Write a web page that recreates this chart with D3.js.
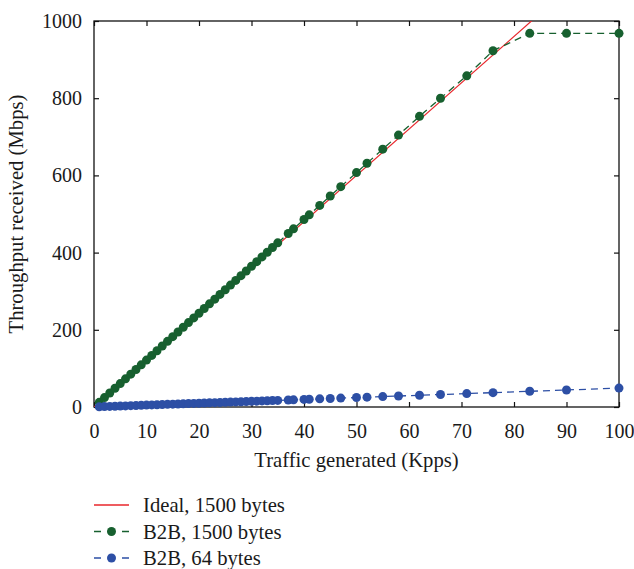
<!DOCTYPE html>
<html>
<head>
<meta charset="utf-8">
<script src="https://cdn.jsdelivr.net/npm/d3@7"></script>
<style>
  body { margin: 0; background: #fff; }
  text { font-family: "Liberation Serif", "Times New Roman", serif; fill: #1a1a1a; }
</style>
</head>
<body>
<script>
// traffic generated (Kpps) for the measured series
var kpps = [1, 2, 3, 4, 5, 6, 7, 8, 9, 10, 11, 12, 13, 14, 15, 16, 17, 18, 19, 20,
  21, 22, 23, 24, 25, 26, 27, 28, 29, 30, 31, 32, 33, 34, 35,
  37, 38, 40, 41, 43, 45, 47, 50, 52, 55, 58, 62, 66, 71, 76, 83, 90, 100];

// throughput received (Mbps), back-to-back, 1500 byte frames
var b2b1500 = [12.1, 24.3, 36.4, 48.6, 60.7, 72.9, 85.0, 97.2, 109.3, 121.5,
  133.6, 145.8, 157.9, 170.1, 182.2, 194.4, 206.5, 218.7, 230.8, 243.0,
  255.1, 267.3, 279.4, 291.6, 303.7, 315.9, 328.0, 340.2, 352.3, 364.5,
  376.6, 388.8, 400.9, 413.1, 425.2,
  449.4, 461.5, 485.8, 497.9, 522.2, 546.5, 570.8, 607.2, 631.5, 668.0,
  704.5, 753.0, 800.0, 858.0, 923.0, 968.0, 968.0, 968.0];

// throughput received (Mbps), back-to-back, 64 byte frames
var b2b64 = [0.5, 1.0, 1.5, 2.0, 2.4, 2.9, 3.4, 3.9, 4.4, 4.9,
  5.4, 5.9, 6.4, 6.9, 7.3, 7.8, 8.3, 8.8, 9.3, 9.8,
  10.3, 10.8, 11.3, 11.8, 12.2, 12.7, 13.2, 13.7, 14.2, 14.7,
  15.2, 15.7, 16.2, 16.7, 17.1,
  18.1, 18.6, 19.6, 20.1, 21.1, 22.0, 23.0, 24.5, 25.5, 26.9,
  28.4, 30.4, 32.3, 34.8, 37.2, 40.7, 44.1, 49.0];

// ideal line, 1500 bytes (12 Mbps per Kpps)
var idealX = [0, 100];
var idealY = [0, 1200];

var xTicks = [0, 10, 20, 30, 40, 50, 60, 70, 80, 90, 100];
var yTicks = [0, 200, 400, 600, 800, 1000];

var legendLabels = ["Ideal, 1500 bytes", "B2B, 1500 bytes", "B2B, 64 bytes"];
var colors = { ideal: "#e8262b", green: "#17602f", blue: "#2d4fa5" };

var margin = {top: 21, right: 15, bottom: 162, left: 94},
    width = 634 - margin.left - margin.right,
    height = 569 - margin.top - margin.bottom;

var svg = d3.select("body").append("svg")
    .attr("width", 634)
    .attr("height", 569);

var g = svg.append("g")
    .attr("transform", "translate(" + margin.left + "," + margin.top + ")");

var x = d3.scaleLinear().domain([0, 100]).range([0, width]);
var y = d3.scaleLinear().domain([0, 1000]).range([height, 0]);

svg.append("defs").append("clipPath").attr("id", "plotclip")
  .append("rect").attr("width", width).attr("height", height);

// axes: ticks point inward, mirrored on top and right
function styleAxis(sel) {
  sel.select(".domain").remove();
  sel.selectAll("line").attr("stroke", "#111").attr("stroke-width", 1.2);
  sel.selectAll("text").style("font-size", "20px").attr("fill", "#1a1a1a");
}

g.append("g")
    .attr("transform", "translate(0," + height + ")")
    .call(d3.axisBottom(x).tickValues(xTicks).tickFormat(d3.format("d"))
      .tickSizeInner(-5).tickSizeOuter(0).tickPadding(13))
    .call(styleAxis)
    .selectAll("text").attr("dy", "0.9em");

g.append("g")
    .call(d3.axisTop(x).tickValues(xTicks).tickSizeInner(-5).tickSizeOuter(0).tickFormat(""))
    .call(styleAxis);

g.append("g")
    .call(d3.axisLeft(y).tickValues(yTicks).tickFormat(d3.format("d"))
      .tickSizeInner(-5).tickSizeOuter(0).tickPadding(12))
    .call(styleAxis);

g.append("g")
    .attr("transform", "translate(" + width + ",0)")
    .call(d3.axisRight(y).tickValues(yTicks).tickSizeInner(-5).tickSizeOuter(0).tickFormat(""))
    .call(styleAxis);

g.append("rect")
    .attr("width", width).attr("height", height)
    .attr("fill", "none").attr("stroke", "#111").attr("stroke-width", 1.3);

// axis titles
g.append("text")
    .attr("x", width / 2).attr("y", height + 60)
    .attr("text-anchor", "middle")
    .style("font-size", "20.7px")
    .text("Traffic generated (Kpps)");

svg.append("text")
    .attr("transform", "translate(23," + (margin.top + height / 2) + ") rotate(-90)")
    .attr("text-anchor", "middle")
    .style("font-size", "20.7px")
    .text("Throughput received (Mbps)");

var line = d3.line()
    .x(function(d) { return x(d[0]); })
    .y(function(d) { return y(d[1]); });

// ideal
g.append("path")
    .datum(d3.zip(idealX, idealY))
    .attr("clip-path", "url(#plotclip)")
    .attr("fill", "none")
    .attr("stroke", colors.ideal)
    .attr("stroke-width", 1.2)
    .attr("d", line);

function drawSeries(vals, color) {
  var pts = d3.zip(kpps, vals);
  g.append("path")
      .datum(pts)
      .attr("fill", "none")
      .attr("stroke", color)
      .attr("stroke-width", 1.3)
      .attr("stroke-dasharray", "7,5")
      .attr("d", line);
  g.append("g").selectAll("circle")
      .data(pts)
    .enter().append("circle")
      .attr("cx", function(d) { return x(d[0]); })
      .attr("cy", function(d) { return y(d[1]); })
      .attr("r", 4.5)
      .attr("fill", color);
}

drawSeries(b2b1500, colors.green);
drawSeries(b2b64, colors.blue);

// legend
var legend = svg.append("g").attr("transform", "translate(94,505)");
var rows = legend.selectAll("g")
    .data(legendLabels)
  .enter().append("g")
    .attr("transform", function(d, i) { return "translate(0," + (i * 26.5) + ")"; });

rows.append("line")
    .attr("x1", 0).attr("x2", 35)
    .attr("stroke", function(d, i) { return [colors.ideal, colors.green, colors.blue][i]; })
    .attr("stroke-width", 1.3)
    .attr("stroke-dasharray", function(d, i) { return i == 0 ? null : "7,21,7"; });

rows.filter(function(d, i) { return i > 0; })
  .append("circle")
    .attr("cx", 17.5).attr("r", 4.5)
    .attr("fill", function(d, i) { return [colors.green, colors.blue][i]; });

rows.append("text")
    .attr("x", 49).attr("dy", "0.34em")
    .style("font-size", "20.7px")
    .text(function(d) { return d; });
</script>
</body>
</html>
